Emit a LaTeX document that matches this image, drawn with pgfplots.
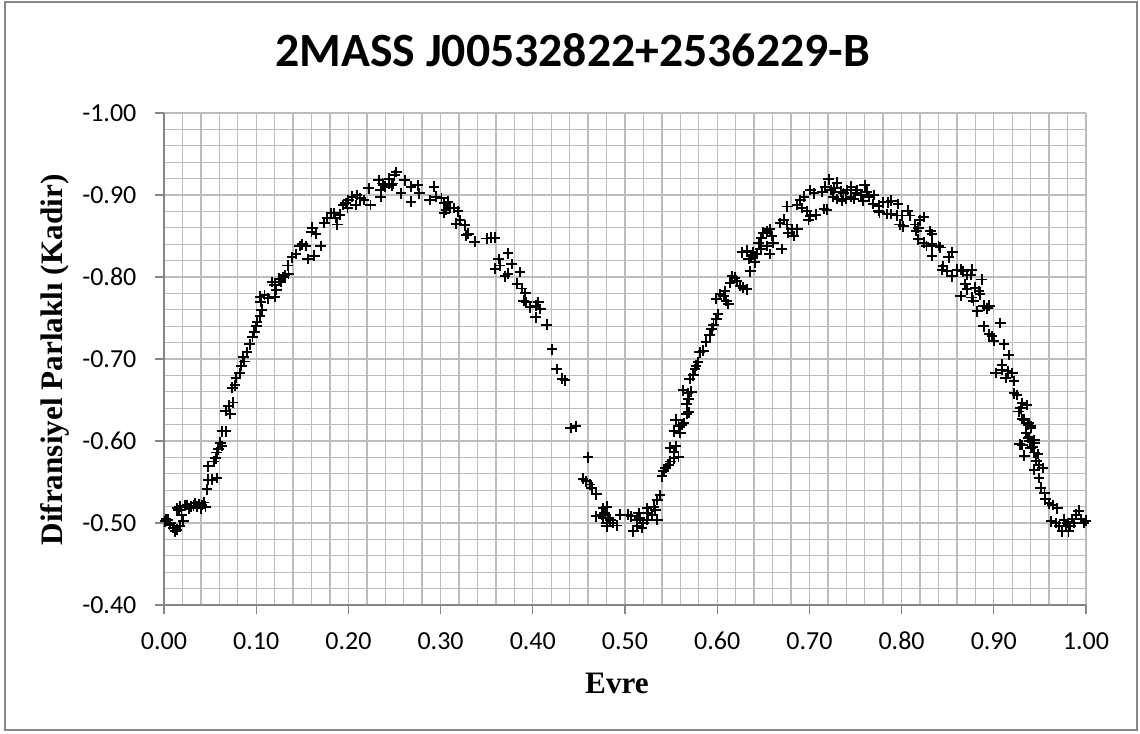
\documentclass[border=0pt]{standalone}
\usepackage{fontspec}
\setmainfont{Carlito}
\newfontfamily\timesfont{Liberation Serif}
\usepackage{pgfplots}
\pgfplotsset{compat=1.18}
\definecolor{gridc}{RGB}{188,188,188}
\definecolor{axc}{RGB}{134,134,134}
\begin{document}
\begin{tikzpicture}
\path[use as bounding box] (-123pt,-96pt) rectangle (732pt,453.75pt);
\draw[axc, line width=1.4pt] (-119.25pt,-93.75pt) rectangle (729.75pt,452.25pt);
\begin{axis}[
  scale only axis, width=691.5pt, height=369pt,
  at={(0,0)}, anchor=south west,
  xmin=0, xmax=1, ymin=-1, ymax=-0.4, y dir=reverse,
  xtick={0,0.1,0.2,0.3,0.4,0.5,0.6,0.7,0.8,0.9,1},
  xticklabels={\textnormal{0.00},\textnormal{0.10},\textnormal{0.20},\textnormal{0.30},\textnormal{0.40},\textnormal{0.50},\textnormal{0.60},\textnormal{0.70},\textnormal{0.80},\textnormal{0.90},\textnormal{1.00}},
  ytick={-1,-0.9,-0.8,-0.7,-0.6,-0.5,-0.4},
  yticklabels={\textnormal{-1.00},\textnormal{-0.90},\textnormal{-0.80},\textnormal{-0.70},\textnormal{-0.60},\textnormal{-0.50},\textnormal{-0.40}},
  minor x tick num=4, minor y tick num=4,
  grid=both, grid style={gridc, line width=1pt},
  minor tick length=0pt, major tick length=6.5pt, tick align=outside,
  tick style={axc, line width=1pt},
  axis line style={draw=none},
  xtick pos=bottom, ytick pos=left,
  ticklabel style={font=\fontsize{19.5}{22}\selectfont, inner sep=0pt, text height=12.6pt, text depth=0pt},
  xticklabel style={anchor=north, yshift=-14pt},
  yticklabel style={anchor=east, xshift=-14pt},
  clip=false,
]
\draw[axc, line width=1.2pt] (axis cs:0,-1) -- (axis cs:0,-0.4) -- (axis cs:1,-0.4);
\addplot[only marks, mark=+, mark size=4pt, black, mark options={line width=1.45pt}] coordinates {
(0.001,-0.502) (0.004,-0.504) (0.006,-0.498) (0.010,-0.494) (0.012,-0.490) (0.014,-0.492)
(0.017,-0.496) (0.021,-0.502) (0.019,-0.510) (0.016,-0.516) (0.014,-0.518) (0.017,-0.520)
(0.023,-0.521) (0.027,-0.518) (0.029,-0.520) (0.032,-0.521) (0.036,-0.520) (0.038,-0.523)
(0.040,-0.518) (0.043,-0.525) (0.041,-0.522) (0.045,-0.520) (0.007,-0.500) (0.002,-0.505)
(0.025,-0.522) (0.034,-0.524)
(0.0465,-0.541) (0.048,-0.553) (0.052,-0.553) (0.057,-0.555) (0.048,-0.569) (0.054,-0.575)
(0.056,-0.579) (0.057,-0.586) (0.059,-0.590) (0.063,-0.594) (0.061,-0.598) (0.063,-0.612)
(0.067,-0.612) (0.067,-0.637) (0.072,-0.633) (0.070,-0.643) (0.075,-0.647) (0.074,-0.665)
(0.077,-0.668) (0.078,-0.677) (0.082,-0.683) (0.084,-0.692) (0.087,-0.697) (0.086,-0.702)
(0.090,-0.708) (0.093,-0.718) (0.096,-0.727) (0.098,-0.733) (0.100,-0.740) (0.101,-0.745)
(0.104,-0.752) (0.106,-0.760) (0.105,-0.770)
(0.104,-0.776) (0.109,-0.778) (0.113,-0.774) (0.120,-0.776) (0.117,-0.794) (0.120,-0.790)
(0.122,-0.784) (0.125,-0.798) (0.127,-0.794) (0.131,-0.802) (0.135,-0.804) (0.129,-0.800)
(0.134,-0.814) (0.139,-0.824) (0.143,-0.828) (0.147,-0.838) (0.150,-0.840) (0.154,-0.838)
(0.156,-0.822) (0.163,-0.826) (0.170,-0.838) (0.160,-0.855) (0.165,-0.853) (0.161,-0.860)
(0.174,-0.866) (0.177,-0.872) (0.181,-0.878) (0.186,-0.872) (0.188,-0.864) (0.191,-0.876)
(0.184,-0.878) (0.194,-0.888) (0.197,-0.890) (0.200,-0.894) (0.204,-0.898) (0.209,-0.900)
(0.213,-0.896) (0.208,-0.888) (0.199,-0.884) (0.224,-0.888) (0.217,-0.894) (0.222,-0.908)
(0.233,-0.918) (0.240,-0.910) (0.244,-0.914) (0.247,-0.912) (0.250,-0.924) (0.252,-0.928)
(0.238,-0.912) (0.235,-0.898)
(0.237,-0.914) (0.244,-0.920) (0.235,-0.906) (0.248,-0.914) (0.261,-0.918) (0.257,-0.902)
(0.268,-0.892) (0.268,-0.910) (0.275,-0.912) (0.277,-0.902) (0.288,-0.894) (0.293,-0.910)
(0.295,-0.898) (0.301,-0.896) (0.304,-0.890) (0.308,-0.892) (0.310,-0.884) (0.304,-0.878)
(0.306,-0.882) (0.315,-0.884) (0.319,-0.880) (0.321,-0.869) (0.317,-0.865) (0.326,-0.863)
(0.328,-0.851) (0.330,-0.853) (0.337,-0.843) (0.350,-0.847) (0.355,-0.848) (0.359,-0.848)
(0.373,-0.829) (0.363,-0.822) (0.364,-0.814) (0.359,-0.810) (0.377,-0.816) (0.370,-0.801)
(0.373,-0.804) (0.386,-0.806) (0.383,-0.792) (0.388,-0.786) (0.392,-0.780) (0.393,-0.769)
(0.397,-0.763) (0.403,-0.765) (0.406,-0.769) (0.408,-0.761) (0.403,-0.751) (0.390,-0.771)
(0.415,-0.742) (0.421,-0.712) (0.426,-0.688) (0.432,-0.676) (0.435,-0.674) (0.441,-0.616)
(0.447,-0.618)
(0.460,-0.580) (0.4545,-0.554) (0.458,-0.551) (0.462,-0.547) (0.464,-0.543) (0.469,-0.535)
(0.476,-0.518) (0.480,-0.520) (0.469,-0.508) (0.475,-0.510) (0.478,-0.512) (0.482,-0.506)
(0.476,-0.506) (0.480,-0.500) (0.484,-0.504) (0.480,-0.496) (0.491,-0.497) (0.487,-0.500)
(0.495,-0.510) (0.503,-0.510) (0.507,-0.508) (0.509,-0.490) (0.513,-0.496) (0.513,-0.504)
(0.516,-0.506) (0.515,-0.512) (0.518,-0.494) (0.520,-0.500) (0.524,-0.504) (0.525,-0.512)
(0.524,-0.518) (0.529,-0.510) (0.533,-0.516) (0.535,-0.504) (0.531,-0.520) (0.535,-0.528)
(0.538,-0.534) (0.540,-0.557) (0.542,-0.563) (0.544,-0.567) (0.547,-0.571) (0.549,-0.575)
(0.553,-0.579) (0.558,-0.581) (0.549,-0.592) (0.555,-0.594) (0.553,-0.587) (0.553,-0.612)
(0.555,-0.626) (0.558,-0.618) (0.562,-0.620) (0.560,-0.610) (0.564,-0.622) (0.567,-0.633)
(0.569,-0.635) (0.567,-0.645) (0.569,-0.651)
(0.563,-0.662) (0.568,-0.658) (0.572,-0.660) (0.570,-0.676) (0.574,-0.680) (0.576,-0.688)
(0.577,-0.692) (0.579,-0.696) (0.581,-0.708) (0.585,-0.710) (0.588,-0.721) (0.592,-0.729)
(0.594,-0.737) (0.596,-0.741) (0.599,-0.749) (0.601,-0.755) (0.599,-0.773) (0.603,-0.779)
(0.607,-0.777) (0.608,-0.783) (0.612,-0.767) (0.610,-0.771) (0.614,-0.793) (0.616,-0.801)
(0.619,-0.799) (0.621,-0.795) (0.625,-0.789) (0.628,-0.787) (0.632,-0.785) (0.627,-0.830)
(0.632,-0.832) (0.634,-0.822) (0.637,-0.826) (0.639,-0.830) (0.641,-0.818) (0.643,-0.828)
(0.647,-0.834) (0.645,-0.842) (0.648,-0.848) (0.650,-0.854) (0.654,-0.856) (0.657,-0.858)
(0.659,-0.850) (0.661,-0.842) (0.657,-0.828) (0.654,-0.838) (0.636,-0.807) (0.668,-0.866)
(0.672,-0.870) (0.676,-0.864) (0.677,-0.854) (0.681,-0.858) (0.683,-0.850) (0.687,-0.858)
(0.670,-0.834) (0.676,-0.886) (0.687,-0.888) (0.690,-0.894) (0.694,-0.898) (0.697,-0.880)
(0.701,-0.874) (0.707,-0.876) (0.699,-0.870) (0.692,-0.884) (0.701,-0.906) (0.705,-0.902)
(0.714,-0.904) (0.717,-0.910) (0.721,-0.919) (0.723,-0.906) (0.727,-0.908) (0.730,-0.915)
(0.734,-0.904) (0.737,-0.902) (0.741,-0.906) (0.719,-0.882)
(0.745,-0.898) (0.750,-0.902) (0.752,-0.906) (0.756,-0.900) (0.760,-0.912) (0.762,-0.904)
(0.765,-0.898) (0.745,-0.910) (0.748,-0.895) (0.758,-0.893) (0.770,-0.900) (0.740,-0.895)
(0.730,-0.895) (0.726,-0.898)
(0.716,-0.883) (0.735,-0.893) (0.758,-0.893) (0.769,-0.889) (0.775,-0.887) (0.780,-0.891)
(0.785,-0.891) (0.789,-0.893) (0.796,-0.889) (0.775,-0.881) (0.776,-0.879) (0.784,-0.877)
(0.789,-0.877) (0.795,-0.875) (0.800,-0.875) (0.807,-0.881) (0.798,-0.864) (0.802,-0.862)
(0.809,-0.875) (0.815,-0.864) (0.818,-0.860) (0.824,-0.873) (0.816,-0.856) (0.820,-0.869)
(0.831,-0.856) (0.833,-0.852) (0.818,-0.846) (0.824,-0.842) (0.827,-0.838) (0.833,-0.840)
(0.840,-0.838) (0.842,-0.836) (0.833,-0.826) (0.855,-0.830) (0.851,-0.824) (0.845,-0.813)
(0.844,-0.809) (0.849,-0.807) (0.855,-0.801) (0.860,-0.809) (0.864,-0.809) (0.867,-0.807)
(0.871,-0.803) (0.876,-0.809) (0.875,-0.803) (0.887,-0.797) (0.869,-0.791) (0.871,-0.785)
(0.880,-0.787) (0.884,-0.783) (0.885,-0.779) (0.864,-0.777) (0.876,-0.775) (0.878,-0.771)
(0.882,-0.758) (0.889,-0.765) (0.893,-0.762) (0.895,-0.765) (0.907,-0.744) (0.889,-0.740)
(0.895,-0.730) (0.898,-0.728) (0.900,-0.722) (0.911,-0.718) (0.916,-0.705) (0.909,-0.693)
(0.909,-0.687) (0.915,-0.685) (0.920,-0.683) (0.902,-0.683) (0.913,-0.677) (0.922,-0.673)
(0.922,-0.658) (0.925,-0.656) (0.931,-0.646) (0.936,-0.644) (0.929,-0.640) (0.927,-0.636)
(0.933,-0.626) (0.938,-0.622) (0.940,-0.618) (0.938,-0.605) (0.944,-0.601) (0.942,-0.593)
(0.931,-0.595)
(0.931,-0.627) (0.937,-0.620) (0.940,-0.616) (0.935,-0.610) (0.937,-0.604) (0.928,-0.596)
(0.933,-0.582) (0.939,-0.600) (0.944,-0.598) (0.940,-0.592) (0.944,-0.586) (0.948,-0.584)
(0.946,-0.576) (0.949,-0.571) (0.953,-0.567) (0.944,-0.565) (0.949,-0.555) (0.951,-0.543)
(0.955,-0.537) (0.956,-0.529) (0.960,-0.524) (0.964,-0.522) (0.969,-0.518) (0.962,-0.502)
(0.967,-0.500) (0.971,-0.496) (0.974,-0.490) (0.976,-0.504) (0.980,-0.500) (0.983,-0.496)
(0.987,-0.500) (0.989,-0.510) (0.981,-0.490) (0.992,-0.515) (0.995,-0.505) (0.998,-0.500)
(1.000,-0.503) (0.985,-0.505) (0.978,-0.497)
};
\end{axis}
\node[anchor=base, font=\fontsize{35.8}{40}\selectfont\bfseries] at (306.5pt,403.7pt) {2MASS J00532822+2536229-B};
\node[rotate=90, font=\timesfont\fontsize{23.4}{26}\selectfont\bfseries] at (-81.75pt,183.75pt) {Difransiyel Parlaklı (Kadir)};
\node[font=\timesfont\fontsize{23.4}{26}\selectfont\bfseries] at (339.75pt,-58.5pt) {Evre};
\end{tikzpicture}
\end{document}
